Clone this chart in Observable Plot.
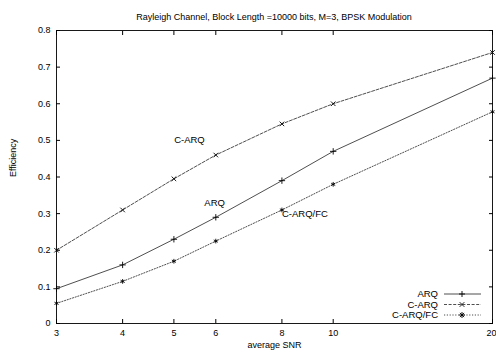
<!DOCTYPE html>
<html><head><meta charset="utf-8">
<script src="https://cdn.jsdelivr.net/npm/d3@7"></script>
<script src="https://cdn.jsdelivr.net/npm/@observablehq/plot@0.6"></script>
<style>
body{margin:0;background:#fff;font-family:"Liberation Sans",Arial,sans-serif;}
#wrap{position:relative;width:496px;height:352px;overflow:hidden;}
#title{height:22px;line-height:34px;font-size:9px;text-align:center;padding-left:56px;padding-right:4px;color:#000;}
#legend{position:absolute;left:0;top:0;}
</style></head><body>
<div id="wrap"><div id="title">Rayleigh Channel, Block Length =10000 bits, M=3, BPSK Modulation</div><div id="chart"></div></div>
<script>
const snr = [3, 4, 5, 6, 8, 10, 20];
const arq = [0.095, 0.16, 0.23, 0.29, 0.39, 0.47, 0.67];
const carq = [0.2, 0.31, 0.395, 0.46, 0.545, 0.6, 0.74];
const carqfc = [0.055, 0.115, 0.17, 0.225, 0.31, 0.38, 0.578];
const seriesNames = ["ARQ", "C-ARQ", "C-ARQ/FC"];
const yTicks = [0, 0.1, 0.2, 0.3, 0.4, 0.5, 0.6, 0.7, 0.8];
const midLabels = [
  {name: "C-ARQ", x: 5.35, y: 0.5},
  {name: "ARQ", x: 5.97, y: 0.33}
];
const startLabels = [
  {name: "C-ARQ/FC", x: 8.0, y: 0.30}
];

const styles = {
  "ARQ": {dash: null, symbol: "plus", path: "M-3,0H3M0,-3V3"},
  "C-ARQ": {dash: "3,1.6", symbol: "times", path: "M-2.3,-2.3L2.3,2.3M-2.3,2.3L2.3,-2.3"},
  "C-ARQ/FC": {dash: "1.2,1.6", symbol: "asterisk", path: "M-3,0H3M0,-3V3M-2.1,-2.1L2.1,2.1M-2.1,2.1L2.1,-2.1"}
};
const valuesBy = {"ARQ": arq, "C-ARQ": carq, "C-ARQ/FC": carqfc};
const rows = seriesNames.map(s => snr.map((x, i) => ({series: s, x, y: valuesBy[s][i]})));

const marks = [];
for (const r of rows) {
  const st = styles[r[0].series];
  marks.push(Plot.line(r, {x: "x", y: "y", stroke: "#222", strokeWidth: 0.8, strokeDasharray: st.dash}));
  marks.push(Plot.dot(r, {x: "x", y: "y", symbol: () => st.symbol, r: 2.2, stroke: "#000", strokeWidth: 0.9}));
}
const blank = () => "";

const chart = Plot.plot({
  width: 496, height: 330,
  marginLeft: 56, marginRight: 4, marginTop: 8, marginBottom: 29,
  style: {fontFamily: "Liberation Sans, Arial, sans-serif", fontSize: "9px", overflow: "visible", color: "#000"},
  x: {type: "log", domain: [3, 20]},
  y: {domain: [0, 0.8]},
  marks: [
    Plot.frame({stroke: "#000", strokeWidth: 0.9}),
    Plot.axisX({ticks: snr.slice(0, -1), tickFormat: d => String(d), tickSize: 0, tickPadding: 6, label: null}),
    Plot.axisX({ticks: snr.slice(-1), tickFormat: d => String(d), tickSize: 0, tickPadding: 6, textAnchor: "end", dx: 4, label: null}),
    Plot.axisX({ticks: snr, anchor: "bottom", tickSize: -4, tickFormat: blank, label: null}),
    Plot.axisX({ticks: snr, anchor: "top", tickSize: -4, tickFormat: blank, label: null}),
    Plot.axisY({ticks: yTicks, tickFormat: d => d === 0 ? "0" : d3.format(".1f")(d), tickSize: 0, tickPadding: 6, label: null}),
    Plot.axisY({ticks: yTicks, anchor: "left", tickSize: -4, tickFormat: blank, label: null}),
    Plot.axisY({ticks: yTicks, anchor: "right", tickSize: -4, tickFormat: blank, label: null}),
    Plot.text(["average SNR"], {frameAnchor: "bottom", dy: 24, fontSize: 9, fill: "#000"}),
    Plot.text(["Efficiency"], {frameAnchor: "left", dx: -43, rotate: -90, fontSize: 9, fill: "#000"}),
    ...marks,
    Plot.text(midLabels, {x: "x", y: "y", text: "name", textAnchor: "middle", fontSize: 9.5, fill: "#000"}),
    Plot.text(startLabels, {x: "x", y: "y", text: "name", textAnchor: "start", fontSize: 9.5, fill: "#000"})
  ]
});
document.getElementById("chart").appendChild(chart);

// legend
const lg = d3.select("#wrap").append("svg").attr("id", "legend").attr("width", 496).attr("height", 352);
seriesNames.forEach((s, i) => {
  const y = 294 + i * 10.5;
  lg.append("text").attr("x", 438).attr("y", y).attr("dy", "0.32em").attr("text-anchor", "end")
    .attr("font-size", 9.5).attr("font-family", "Liberation Sans, Arial, sans-serif").text(s);
  lg.append("line").attr("x1", 444).attr("x2", 481).attr("y1", y).attr("y2", y)
    .attr("stroke", "#222").attr("stroke-width", 0.8).attr("stroke-dasharray", styles[s].dash);
  lg.append("path").attr("d", styles[s].path).attr("transform", `translate(462,${y})`)
    .attr("fill", "none").attr("stroke", "#000").attr("stroke-width", 0.9);
});
</script>
</body></html>
